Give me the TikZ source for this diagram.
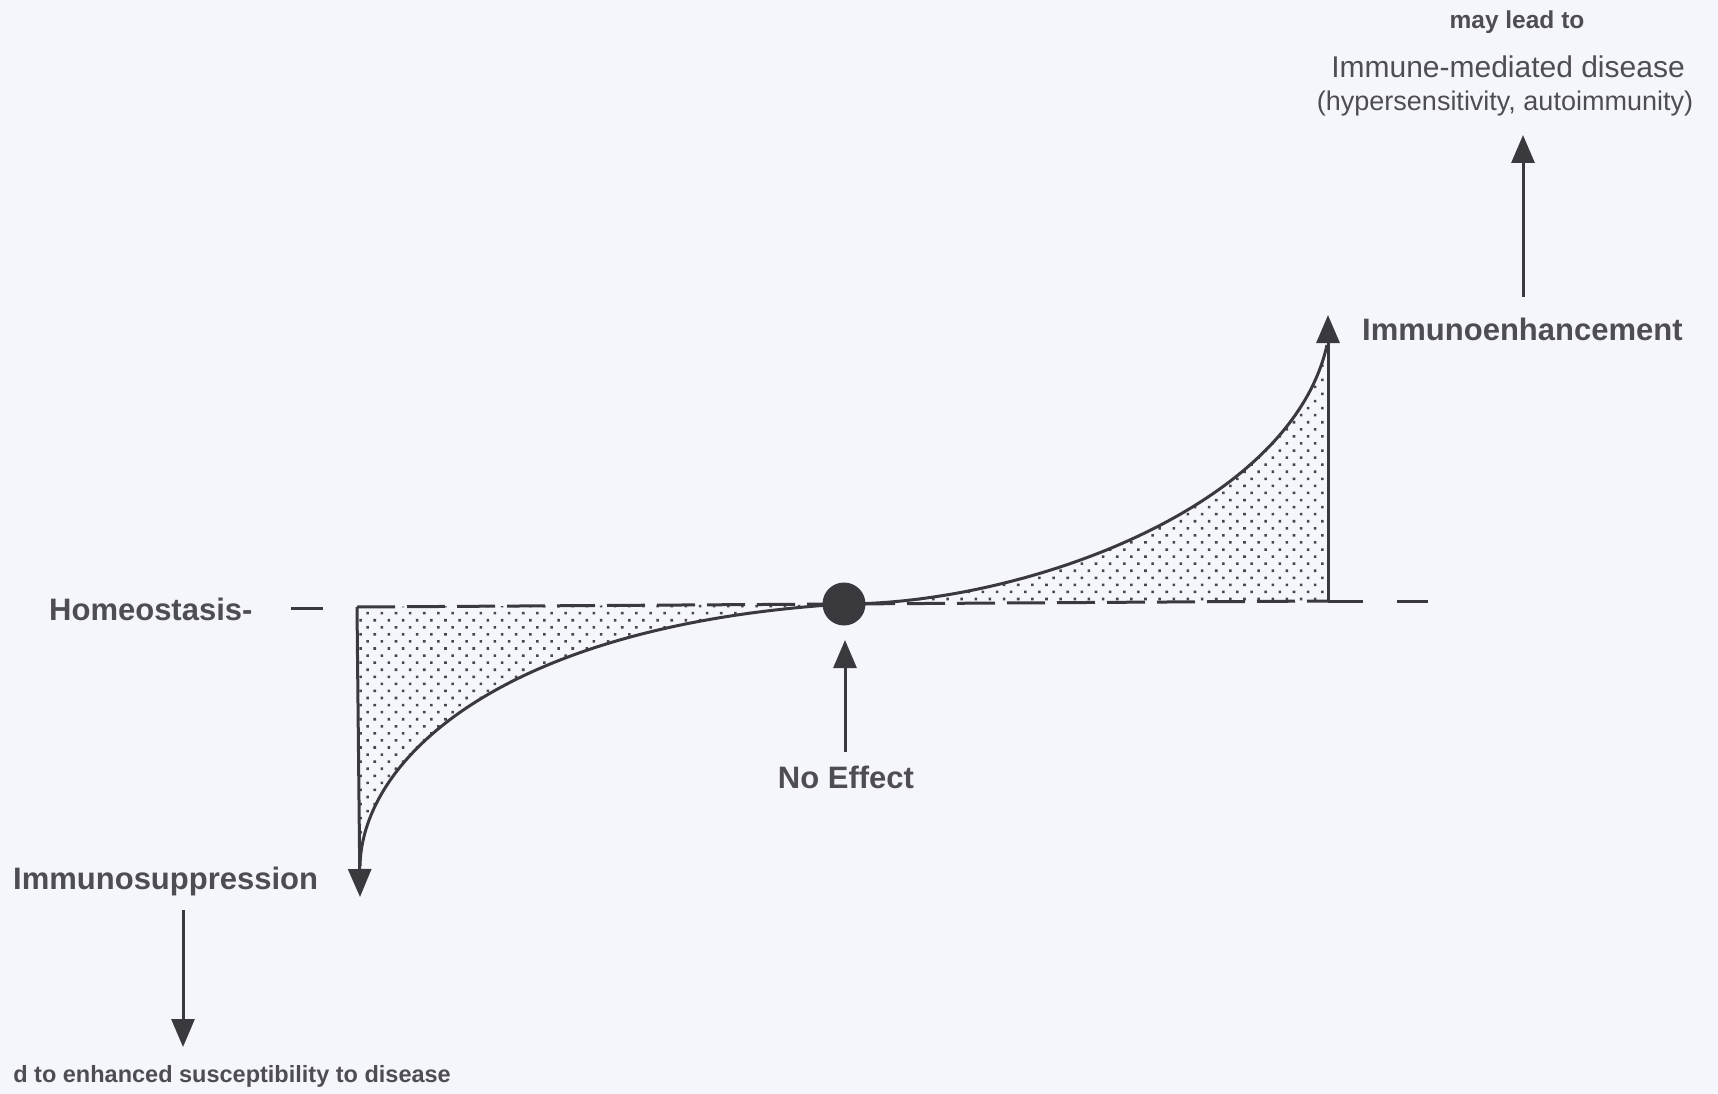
\documentclass[tikz,border=0pt]{standalone}
\usepackage{fontspec}
\setmainfont{Liberation Sans}
\usetikzlibrary{arrows.meta,patterns.meta}
\definecolor{bgc}{RGB}{245,246,252}
\definecolor{linec}{RGB}{58,58,62}
\definecolor{txtc}{RGB}{78,78,82}
\definecolor{dotc}{RGB}{70,70,76}
\tikzset{
  ln/.style={draw=linec, line width=3pt},
  arr/.style={ln, -{Triangle[width=23pt,length=28pt]}},
  dashln/.style={ln, dash pattern=on 38pt off 12pt},
  lbl/.style={text=txtc, inner sep=0pt, font=\fontsize{31}{36}\selectfont\bfseries},
  small/.style={text=txtc, inner sep=0pt, font=\fontsize{24.5}{28}\selectfont\bfseries},
  light/.style={text=txtc, inner sep=0pt},
  dotfill/.style={pattern={Dots[distance=10pt, angle=45, radius=1.8pt]}, pattern color=dotc}
}
\begin{document}
\begin{tikzpicture}[x=1pt,y=-1pt]
\fill[bgc] (0,0) rectangle (1718,1094);
\useasboundingbox (0,0) rectangle (1718,1094);

% key points
\coordinate (ltop) at (357,607);
\coordinate (lbot) at (360,866);
\coordinate (ltip) at (360,897);
\coordinate (ctr) at (844,604);
\coordinate (rbot) at (1328,601);
\coordinate (rtop) at (1327,345);
\coordinate (rtip) at (1328,315);

% shaded regions
\fill[dotfill] (ltop) -- (lbot) .. controls (362,760) and (500,625) .. (ctr) -- cycle;
\fill[dotfill] (ctr) .. controls (1020,604) and (1290,510) .. (rtop) -- (rbot) -- cycle;

% homeostasis line
\coordinate (hd1) at (291,608);
\coordinate (hd2) at (323,608);
\draw[ln] (hd1) -- (hd2);
\draw[dashln] (ltop) -- (rbot);
\coordinate (rd1) at (1363,601);
\coordinate (rd2) at (1397,601);
\coordinate (rd3) at (1428,601);
\draw[ln] (rbot) -- (rd1);
\draw[ln] (rd2) -- (rd3);

% curves
\draw[ln] (lbot) .. controls (362,760) and (500,625) .. (ctr);
\draw[ln] (ctr) .. controls (1020,604) and (1290,510) .. (rtop);

% verticals with arrows
\draw[arr] (ltop) -- (ltip);
\draw[arr] (rbot) -- (rtip);

% no effect point
\node[circle, fill=linec, minimum size=43pt, inner sep=0pt] (dot) at (ctr) {};
\coordinate (nebot) at (845,752);
\coordinate (netip) at (845,640);
\draw[arr] (nebot) -- (netip);

% upper arrow
\coordinate (ubot) at (1523,297);
\coordinate (utip) at (1523,135);
\draw[arr] (ubot) -- (utip);

% lower arrow
\coordinate (dtop) at (183,910);
\coordinate (dtip) at (183,1047);
\draw[arr] (dtop) -- (dtip);

% labels
\node[small] (maylead) at (1517,22) {may lead to};
\node[light, font=\fontsize{30}{34}\selectfont] (imd) at (1508,67) {Immune-mediated disease};
\node[light, font=\fontsize{27}{31}\selectfont] (hyp) at (1505,104) {(hypersensitivity, autoimmunity)};
\node[lbl, anchor=west] (enh) at (1362,329) {Immunoenhancement};
\node[lbl, anchor=west] (homeo) at (49,609) {Homeostasis-};
\node[lbl, anchor=west] (supp) at (13,881) {Immunosuppression};
\node[lbl] (noeff) at (846,777) {No Effect};
\node[small, anchor=east, font=\fontsize{23.5}{27}\selectfont\bfseries] (susc) at (451,1076) {d to enhanced susceptibility to disease};
\end{tikzpicture}
\end{document}
